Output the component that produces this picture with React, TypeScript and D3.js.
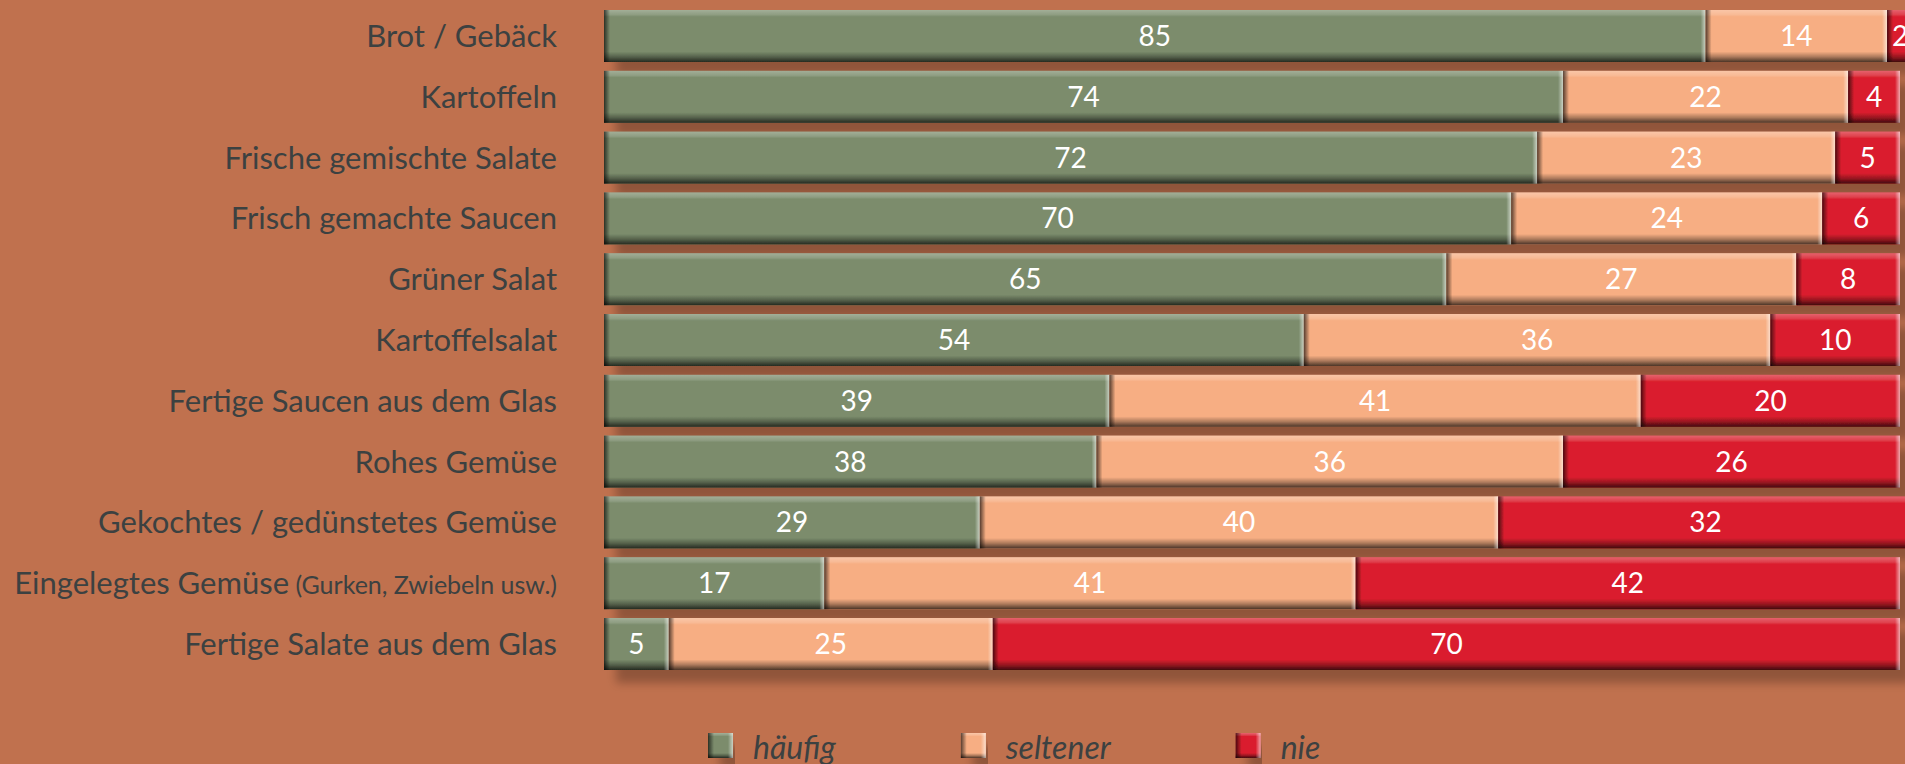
import * as d3 from 'd3'
import React, { useEffect, useRef } from 'react'

const categories = [
  'Brot / Gebäck',
  'Kartoffeln',
  'Frische gemischte Salate',
  'Frisch gemachte Saucen',
  'Grüner Salat',
  'Kartoffelsalat',
  'Fertige Saucen aus dem Glas',
  'Rohes Gemüse',
  'Gekochtes / gedünstetes Gemüse',
  'Eingelegtes Gemüse',
  'Fertige Salate aus dem Glas',
]
// small extra note after a label
const notes: Record<string, string> = { 'Eingelegtes Gemüse': ' (Gurken, Zwiebeln usw.)' }

const haeufig = [85, 74, 72, 70, 65, 54, 39, 38, 29, 17, 5]
const seltener = [14, 22, 23, 24, 27, 36, 41, 36, 40, 41, 25]
const nie = [2, 4, 5, 6, 8, 10, 20, 26, 32, 42, 70]

const seriesKeys = ['häufig', 'seltener', 'nie']
const seriesColors = ['#7b8c6c', '#f7ae83', '#da1f2e']

const W = 1905
const H = 764
const bg = '#c0714e'
const labelColor = '#3c4141'

const App = () => {
  const ref = useRef<SVGSVGElement>(null)

  useEffect(() => {
    if (!ref.current) return
    const svg = d3.select(ref.current)
    svg.selectAll('*').remove()

    const rows = categories.map((c, i) => ({ cat: c, vals: [haeufig[i], seltener[i], nie[i]] }))

    const x = d3.scaleLinear().domain([0, 100]).range([604, 1900])
    const y = d3.scaleBand().domain(categories).range([5.6, 674.4]).paddingInner(0.145).paddingOuter(0.0725)

    const defs = svg.append('defs')
    const shadow = defs.append('filter').attr('id', 'shadow').attr('x', '-5%').attr('y', '-50%').attr('width', '110%').attr('height', '200%')
    shadow.append('feDropShadow').attr('dx', 12).attr('dy', 13).attr('stdDeviation', 5)
      .attr('flood-color', '#000').attr('flood-opacity', 0.25)

    // bevel gradients
    const vg = defs.append('linearGradient').attr('id', 'bevelV').attr('x1', 0).attr('x2', 0).attr('y1', 0).attr('y2', 1)
    ;[
      [0, '#fff', 0.3], [0.09, '#fff', 0.15], [0.13, '#fff', 0],
      [0.8, '#000', 0], [0.9, '#000', 0.3], [1, '#000', 0.7],
    ].forEach(([o, c, op]) => vg.append('stop').attr('offset', o as number).attr('stop-color', c as string).attr('stop-opacity', op as number))
    const lg = defs.append('linearGradient').attr('id', 'bevelL')
    lg.append('stop').attr('offset', 0).attr('stop-color', '#000').attr('stop-opacity', 0.65)
    lg.append('stop').attr('offset', 1).attr('stop-color', '#000').attr('stop-opacity', 0)
    const rg = defs.append('linearGradient').attr('id', 'bevelR')
    rg.append('stop').attr('offset', 0).attr('stop-color', '#fff').attr('stop-opacity', 0)
    rg.append('stop').attr('offset', 1).attr('stop-color', '#fff').attr('stop-opacity', 0.6)

    svg.append('rect').attr('width', W).attr('height', H).attr('fill', bg)

    const bevelBox = (g: d3.Selection<SVGGElement, unknown, null, undefined>, x0: number, y0: number, w: number, h: number, color: string) => {
      g.append('rect').attr('x', x0).attr('y', y0).attr('width', w).attr('height', h).attr('fill', color)
      g.append('rect').attr('x', x0).attr('y', y0).attr('width', w).attr('height', h).attr('fill', 'url(#bevelV)')
      g.append('rect').attr('x', x0).attr('y', y0).attr('width', Math.min(6, w)).attr('height', h).attr('fill', 'url(#bevelL)')
      g.append('rect').attr('x', x0 + w - Math.min(5, w)).attr('y', y0).attr('width', Math.min(5, w)).attr('height', h).attr('fill', 'url(#bevelR)')
    }

    rows.forEach((r) => {
      const g = svg.append('g').attr('filter', 'url(#shadow)')
      const y0 = y(r.cat) as number
      let acc = 0
      r.vals.forEach((v, k) => {
        const x0 = x(acc)
        const x1 = x(acc + v)
        bevelBox(g as any, x0, y0, x1 - x0, y.bandwidth(), seriesColors[k])
        acc += v
      })
      acc = 0
      r.vals.forEach((v) => {
        svg.append('text')
          .attr('x', (x(acc) + x(acc + v)) / 2)
          .attr('y', y0 + y.bandwidth() / 2 + 10)
          .attr('text-anchor', 'middle')
          .attr('fill', '#fff')
          .style('font-family', 'Lato, sans-serif')
          .style('font-size', '28px')
          .text(v)
        acc += v
      })

      const t = svg.append('text')
        .attr('x', 557)
        .attr('y', y0 + y.bandwidth() / 2 + 11)
        .attr('text-anchor', 'end')
        .attr('fill', labelColor)
        .style('font-family', 'Lato, sans-serif')
        .style('font-size', '31px')
      t.append('tspan').text(r.cat)
      if (notes[r.cat]) t.append('tspan').style('font-size', '25px').text(notes[r.cat])
    })

    // legend
    const legend = svg.append('g')
    let lx = 708
    seriesKeys.forEach((k, i) => {
      const g = legend.append('g').attr('filter', 'url(#shadow)')
      bevelBox(g as any, lx, 733, 25, 25, seriesColors[i])
      const t = legend.append('text')
        .attr('x', lx + 45)
        .attr('y', 759)
        .attr('fill', labelColor)
        .style('font-family', 'Lato, sans-serif')
        .style('font-style', 'italic')
        .style('font-size', '32px')
        .text(k)
      const tw = (t.node() as SVGTextElement).getComputedTextLength()
      lx += 45 + tw + 125
    })
  }, [])

  return <svg ref={ref} width={W} height={H} style={{ position: 'absolute', left: 0, top: 0, display: 'block' }} />
}

export default App
